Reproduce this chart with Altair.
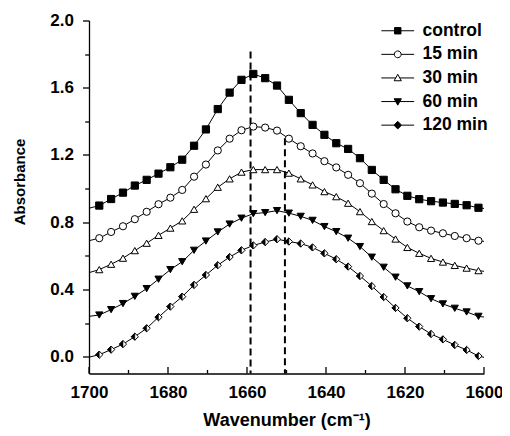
import altair as alt
import pandas as pd

series_names = ["control", "15 min", "30 min", "60 min", "120 min"]

wavenumber = [1697.4, 1694.4, 1691.4, 1688.4, 1685.4, 1682.4, 1679.4, 1676.4, 1673.4,
              1670.4, 1667.4, 1664.4, 1661.4, 1658.4, 1655.4, 1652.4, 1649.4, 1646.4,
              1643.4, 1640.4, 1637.4, 1634.4, 1631.4, 1628.4, 1625.4, 1622.4, 1619.4,
              1616.4, 1613.4, 1610.4, 1607.4, 1604.4, 1601.4]

control = [0.899, 0.938, 0.976, 1.018, 1.052, 1.089, 1.127, 1.172, 1.255, 1.352, 1.473,
           1.571, 1.647, 1.682, 1.657, 1.613, 1.528, 1.449, 1.379, 1.320, 1.270, 1.236,
           1.181, 1.111, 1.052, 0.996, 0.957, 0.937, 0.925, 0.917, 0.909, 0.901, 0.886]
min15 = [0.705, 0.742, 0.776, 0.818, 0.862, 0.907, 0.946, 0.992, 1.071, 1.143, 1.227,
         1.297, 1.347, 1.369, 1.363, 1.345, 1.297, 1.252, 1.209, 1.163, 1.126, 1.082,
         1.032, 0.970, 0.908, 0.853, 0.804, 0.770, 0.750, 0.734, 0.718, 0.705, 0.690]
min30 = [0.518, 0.550, 0.586, 0.631, 0.675, 0.722, 0.765, 0.808, 0.877, 0.940, 1.008,
         1.058, 1.098, 1.113, 1.113, 1.113, 1.092, 1.058, 1.022, 0.982, 0.952, 0.913,
         0.863, 0.804, 0.750, 0.700, 0.650, 0.615, 0.585, 0.563, 0.543, 0.527, 0.512]
min60 = [0.248, 0.280, 0.316, 0.359, 0.405, 0.461, 0.518, 0.565, 0.633, 0.688, 0.742,
         0.789, 0.824, 0.851, 0.857, 0.869, 0.854, 0.835, 0.811, 0.774, 0.744, 0.705,
         0.655, 0.592, 0.532, 0.473, 0.421, 0.387, 0.345, 0.314, 0.288, 0.266, 0.240]
min120 = [0.012, 0.042, 0.075, 0.119, 0.169, 0.235, 0.298, 0.357, 0.427, 0.486, 0.544,
          0.593, 0.633, 0.662, 0.682, 0.699, 0.685, 0.673, 0.650, 0.615, 0.580, 0.536,
          0.480, 0.420, 0.355, 0.290, 0.229, 0.179, 0.135, 0.103, 0.070, 0.040, 0.004]

edge_1700 = [0.883, 0.690, 0.500, 0.240, -0.003]
edge_1600 = [0.882, 0.686, 0.508, 0.236, -0.004]

band_positions = [1659.1, 1650.4]
band_tops = [1.815, 1.30]

x_major = [1700, 1680, 1660, 1640, 1620, 1600]
x_minor = [1690, 1670, 1650, 1630, 1610]
y_ticks = [0.0, 0.2, 0.4, 0.6, 0.8, 1.0, 1.2, 1.4, 1.6, 1.8, 2.0]

marker_shapes = ["square", "circle", "triangle-up", "triangle-down", "diamond"]
marker_fills = ["black", "white", "white", "black", "white"]
legend_paths = [
    "M-4.1,0H-0.8M0.8,0H4.1M-0.8,-0.8H0.8V0.8H-0.8Z",
    "M-4.1,0H-0.85M0.85,0H4.1M-0.85,0A0.85,0.85,0,1,0,0.85,0A0.85,0.85,0,1,0,-0.85,0Z",
    "M-4.1,0H-0.5M0.5,0H4.1M0,-0.9L0.9,0.7L-0.9,0.7Z",
    "M-4.1,0H-0.5M0.5,0H4.1M0,0.9L0.9,-0.7L-0.9,-0.7Z",
    "M-4.1,0H-0.95M0.95,0H4.1M0,-0.95L0.95,0L0,0.95L-0.95,0Z",
]
legend_fills = ["black", "white", "white", "black", "black"]
legend_strokes = ["black", "black", "black", "black", "black"]

all_values = [control, min15, min30, min60, min120]
pt_rows, line_rows = [], []
for name, ys, e0, e1 in zip(series_names, all_values, edge_1700, edge_1600):
    line_rows.append({"series": name, "wn": 1700, "ab": e0})
    for w, a in zip(wavenumber, ys):
        pt_rows.append({"series": name, "wn": w, "ab": a})
        line_rows.append({"series": name, "wn": w, "ab": a})
    line_rows.append({"series": name, "wn": 1600, "ab": e1})
pts = pd.DataFrame(pt_rows)
lines = pd.DataFrame(line_rows)
bands = pd.DataFrame({"wn": band_positions, "ab": band_tops})
xmaj = pd.DataFrame({"wn": x_major})
xmin = pd.DataFrame({"wn": x_minor})

W, H = 395, 353
FONT = "Liberation Sans"
MSIZE = 52

xscale = alt.Scale(domain=[1600, 1700], reverse=True, nice=False, zero=False)
yscale = alt.Scale(domain=[-0.1, 2.0], nice=False, zero=False)

xaxis = alt.Axis(values=x_major, ticks=False, grid=False, format="d", labelFlush=False,
                 labelPadding=11, title="Wavenumber (cm⁻¹)", titleFontSize=18,
                 titlePadding=11)
yaxis = alt.Axis(values=y_ticks, grid=False, labelFlush=False,
                 labelExpr="round(datum.value*10) % 4 === 0 ? format(datum.value, '.1f') : ''",
                 tickSize={"condition": {"test": "round(datum.value*10) % 4 === 0", "value": 6.5},
                           "value": 4.3},
                 labelPadding=9, title="Absorbance", titleFontSize=15, titlePadding=22,
                 titleY=161)

xenc = alt.X("wn:Q", scale=xscale, axis=xaxis)
yenc = alt.Y("ab:Q", scale=yscale, axis=yaxis)

band_layer = alt.Chart(bands).mark_rule(color="black", strokeWidth=2, strokeDash=[7, 4]).encode(
    x=xenc, y=yenc, y2=alt.value(H))

tick_major = alt.Chart(xmaj).mark_rule(color="black", strokeWidth=1.3).encode(
    x=xenc, y=alt.value(H), y2=alt.value(H - 6.5))
tick_minor = alt.Chart(xmin).mark_rule(color="black", strokeWidth=1.3).encode(
    x=xenc, y=alt.value(H), y2=alt.value(H - 3.5))

line_layer = alt.Chart(lines).mark_line(color="black", strokeWidth=1).encode(
    x=xenc, y=yenc, detail="series:N")

point_layer = alt.Chart(pts).mark_point(filled=True, stroke="black", strokeWidth=1,
                                        size=MSIZE, opacity=1).encode(
    x=xenc, y=yenc,
    shape=alt.Shape("series:N", scale=alt.Scale(domain=series_names, range=marker_shapes), legend=None),
    fill=alt.Fill("series:N", scale=alt.Scale(domain=series_names, range=marker_fills), legend=None),
)

half_layer = alt.Chart(pts).transform_filter("datum.series === '120 min'").mark_point(
    filled=True, fill="black", stroke="black", strokeWidth=0.5, size=MSIZE, opacity=1,
    shape="M0,-1L-1,0L0,1Z").encode(x=xenc, y=yenc)

leg = alt.Legend(orient="none", legendX=300, legendY=1.5, title=None,
                 labelFont=FONT, labelFontSize=17.5, labelFontWeight="bold", labelColor="black",
                 labelOffset=16, rowPadding=4.6, padding=0, symbolStrokeColor="black",
                 symbolStrokeWidth=1, symbolSize=64)
legend_layer = alt.Chart(pts).transform_filter("datum.ab > 10").mark_point(
    filled=False, strokeWidth=1, size=64, opacity=1).encode(
    x=xenc, y=yenc,
    shape=alt.Shape("series:N", scale=alt.Scale(domain=series_names, range=legend_paths), legend=leg),
    fill=alt.Fill("series:N", scale=alt.Scale(domain=series_names, range=legend_fills), legend=leg),
    stroke=alt.Stroke("series:N", scale=alt.Scale(domain=series_names, range=legend_strokes), legend=leg),
)

chart = alt.layer(band_layer, tick_major, tick_minor, line_layer, point_layer, half_layer,
                  legend_layer).resolve_scale(
    shape="independent", fill="independent", stroke="independent"
).properties(
    width=W, height=H, autosize="none",
    padding={"left": 81, "top": 12.5, "right": 18, "bottom": 62},
).configure_view(stroke=None).configure_axis(
    domainColor="black", domainWidth=1.3, tickColor="black", tickWidth=1.3,
    labelFont=FONT, labelFontSize=17, labelFontWeight="bold", labelColor="black",
    titleFont=FONT, titleFontWeight="bold", titleColor="black",
)

chart.save("out.html", embed_options={"renderer": "svg", "actions": False})
